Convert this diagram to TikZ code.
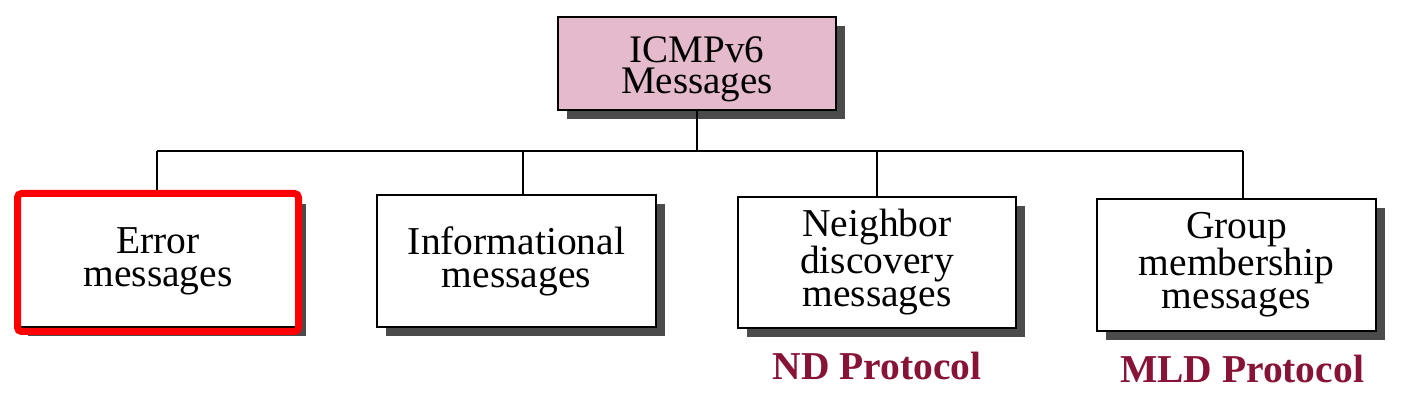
\documentclass[tikz,border=0pt]{standalone}
\usepackage{fontspec}
\setmainfont{Liberation Serif}
\usetikzlibrary{shadows}
\definecolor{pinkfill}{RGB}{228,186,204}
\definecolor{shadowgray}{RGB}{75,75,75}
\definecolor{protored}{RGB}{135,20,55}
\begin{document}
\begin{tikzpicture}[x=1pt,y=1pt,
  msgbox/.style={draw=black, line width=2.2pt, fill=white,
    minimum width=278pt, minimum height=132pt, inner sep=0pt, align=center,
    font=\fontsize{39.5}{33}\selectfont,
    drop shadow={shadow xshift=9pt, shadow yshift=-9pt, fill=shadowgray, opacity=1}},
  boxtext/.style={align=center, inner sep=0pt, font=\fontsize{39}{30.5}\selectfont},
  link/.style={line width=2.2pt, draw=black},
  proto/.style={text=protored, font=\bfseries\fontsize{39.5}{39.5}\selectfont, anchor=base},
  highlight/.style={draw=red, line width=7pt, rounded corners=4pt, fill=none,
    minimum width=281pt, minimum height=138pt, inner sep=0pt}]
\useasboundingbox[fill=white] (0,0) rectangle (1404,406);

% boxes
\node[msgbox, fill=pinkfill, minimum height=93pt] (top) at (697,342.5) {};
\node[boxtext] (toptext) at ([yshift=-6pt]top.center) {ICMPv6\\Messages};
\node[msgbox] (err) at (158,145) {Error\\messages};
\node[msgbox, minimum width=279pt] (info) at (516.5,145) {Informational\\messages};
\node[msgbox, minimum height=131pt] (nd) at (877,143.5) {Neighbor\\discovery\\messages};
\node[msgbox, minimum width=279pt] (grp) at (1236.5,141) {Group\\membership\\messages};

% bus
\coordinate (busL) at (157,255);
\coordinate (busI) at (523,255);
\coordinate (busN) at (877,255);
\coordinate (busR) at (1243,255);

\draw[link] (top.south) -- (top.south |- busL);
\draw[link] (busL) -- (busR);
\draw[link] (busL) -- (busL |- err.north);
\draw[link] (busI) -- (busI |- info.north);
\draw[link] (busN) -- (nd.north);
\draw[link] (busR) -- (busR |- grp.north);

% highlight frame
\node[highlight] (hl) at (158,143.5) {};

% protocol labels
\node[proto] (ndp) at (877,26) {ND Protocol};
\node[proto] (mldp) at (1242,23) {MLD Protocol};
\end{tikzpicture}
\end{document}
